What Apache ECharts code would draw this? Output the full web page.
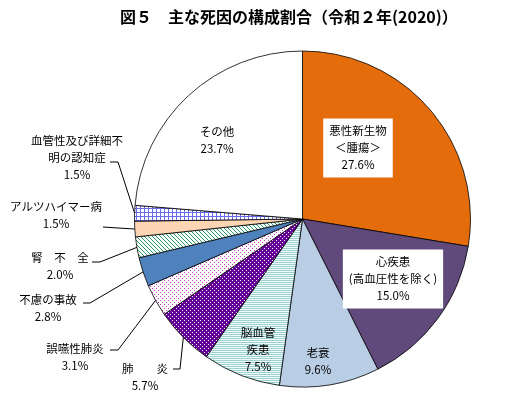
<!DOCTYPE html>
<html>
<head>
<meta charset="utf-8">
<script src="https://cdn.jsdelivr.net/npm/echarts@6/dist/echarts.min.js"></script>
<style>
  html, body {margin: 0; padding: 0; background: #fff;}
  #main {width: 507px; height: 398px;}
</style>
</head>
<body>
<div id="main"></div>
<script>
// 主な死因の構成割合（令和２年）
const causes = [
  '悪性新生物\n＜腫瘍＞', '心疾患\n(高血圧性を除く)', '老衰', '脳血管\n疾患', '肺　　炎',
  '誤嚥性肺炎', '不慮の事故', '腎　不　全', 'アルツハイマー病', '血管性及び詳細不\n明の認知症', 'その他'
]
const shares = [27.6, 15.0, 9.6, 7.5, 5.7, 3.1, 2.8, 2.0, 1.5, 1.5, 23.7]

// small canvas patterns for the hatched slices
function pattern(w, h, bg, fg, pixels) {
  const c = document.createElement('canvas')
  c.width = w
  c.height = h
  const ctx = c.getContext('2d')
  ctx.fillStyle = bg
  ctx.fillRect(0, 0, w, h)
  ctx.fillStyle = fg
  pixels.forEach(p => ctx.fillRect(p[0], p[1], 1, 1))
  return {image: c, repeat: 'repeat'}
}

const fills = [
  '#e46c0a',
  '#604a7b',
  '#b9cde5',
  pattern(2, 2, '#f2fbfb', '#9dd0d0', [[0, 0], [1, 0]]),
  pattern(4, 4, '#660099', '#ffffff', [[0, 0], [2, 2]]),
  pattern(4, 4, '#ffffff', '#cc33cc', [[0, 0], [2, 2]]),
  '#4f81bd',
  pattern(4, 4, '#ffffff', '#2e9a6a', [[0, 0], [1, 1], [2, 2], [3, 3]]),
  '#fcd5b4',
  pattern(4, 4, '#ffffff', '#6a6aee', [[0, 0], [1, 0], [2, 0], [3, 0], [0, 1], [0, 2], [0, 3]]),
  '#ffffff'
]

// where each label sits; outside ones also get the end of their leader line
const place = [
  {x: 358, y: 148, box: true},
  {x: 393, y: 279, box: true},
  {x: 318, y: 361},
  {x: 258, y: 350},
  {x: 145, y: 377, end: [173, 369], elbow: [180, 369]},
  {x: 75, y: 357, end: [110, 350], elbow: [118, 350]},
  {x: 48, y: 308, end: [83, 303], elbow: [90, 303]},
  {x: 60, y: 266, end: [92, 262], elbow: [100, 262]},
  {x: 56, y: 215, end: [103, 227], elbow: [118, 228]},
  {x: 77, y: 158, end: [110, 162], elbow: [118, 162]},
  {x: 217, y: 140}
]

const font = '"Noto Sans CJK JP", sans-serif'

const data = causes.map((name, i) => {
  const outside = !!place[i].end
  return {
    name: name,
    value: shares[i],
    itemStyle: {color: fills[i]},
    label: {
      position: outside ? 'outside' : 'inside',
      backgroundColor: place[i].box ? '#fff' : 'transparent',
      padding: place[i].box ? [4, 6, 4, 6] : 0
    },
    labelLine: {show: outside}
  }
})

const chart = echarts.init(document.getElementById('main'))
chart.setOption({
  backgroundColor: '#fff',
  animation: false,
  title: {
    text: '図５　主な死因の構成割合（令和２年(2020)）',
    left: 115,
    top: 4,
    textStyle: {fontFamily: font, fontSize: 16, fontWeight: 'bold', color: '#000'}
  },
  series: [{
    type: 'pie',
    center: [302.5, 219],
    radius: 168,
    startAngle: 90,
    clockwise: true,
    avoidLabelOverlap: false,
    itemStyle: {borderColor: '#000', borderWidth: 0.8},
    label: {
      formatter: p => p.name + '\n' + p.value.toFixed(1) + '%',
      fontFamily: font,
      fontSize: 11.5,
      lineHeight: 17,
      color: '#000'
    },
    labelLine: {lineStyle: {color: '#000', width: 1}, length: 10, length2: 10},
    labelLayout: params => {
      const p = place[params.dataIndex]
      const out = {x: p.x, y: p.y, align: 'center', verticalAlign: 'middle'}
      if (p.end && params.labelLinePoints) {
        out.labelLinePoints = [params.labelLinePoints[0], p.elbow, p.end]
      }
      return out
    },
    data: data
  }]
})
</script>
</body>
</html>
